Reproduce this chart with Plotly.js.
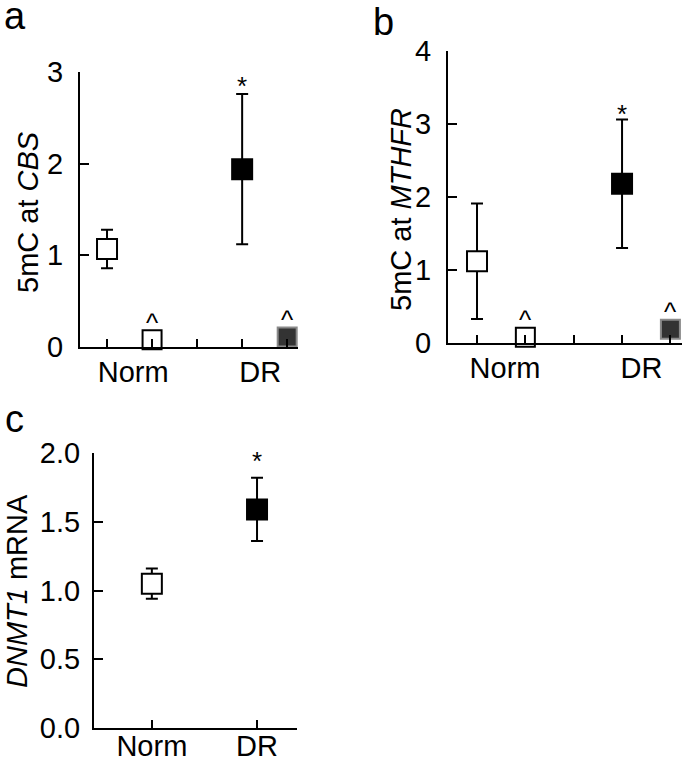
<!DOCTYPE html>
<html>
<head>
<meta charset="utf-8">
<script src="https://cdn.plot.ly/plotly-3.0.1.min.js"></script>
<style>html,body{margin:0;padding:0;background:#fff;}#chart{width:685px;height:761px;}</style>
</head>
<body>
<div id="chart"></div>
<script>
// ---- data ----
const groups = ["Norm", "DR"];
// panel a: 5mC at CBS
const cbsMean = [1.07, 1.94];
const cbsErr = [0.21, 0.82];
const cbsCtrl = [0.08, 0.11];
// panel b: 5mC at MTHFR
const mthfrMean = [1.12, 2.18];
const mthfrErr = [0.79, 0.88];
const mthfrCtrl = [0.08, 0.19];
// panel c: DNMT1 mRNA
const dnmtMean = [1.05, 1.59];
const dnmtErr = [0.11, 0.23];
// significance marks
const sigMarks = ["", "*"];
const ctrlMark = "^";
const yTicksA = [0, 1, 2, 3];
const yTicksB = [0, 1, 2, 3, 4];
const yTicksC = [0, 0.5, 1.0, 1.5, 2.0];

// ---- styling ----
const FONT = "Liberation Sans, Arial, sans-serif";
const fillMain = ["#ffffff", "#000000"];
const fillCtrl = ["#ffffff", "#333333"];
const lineCtrl = ["#000000", "#8a8a8a"];
const labelOffset = [0.08, -0.1];
const markFont = {family: FONT, size: 26, color: "#000"};

const traces = [];
const annotations = [];

function methPanel(xa, ya, mean, err, ctrl, starShift) {
  groups.forEach((g, i) => {
    const center = 1.5 + 3 * i;
    traces.push({
      x: [center - 0.5], y: [mean[i]], xaxis: xa, yaxis: ya, type: "scatter", mode: "markers",
      cliponaxis: false, showlegend: false, hoverinfo: "skip",
      error_y: {type: "data", array: [err[i]], visible: true, color: "#000", thickness: 2, width: 6},
      marker: {symbol: "square", size: 20, color: fillMain[i], line: {color: "#000", width: 2}}
    });
    traces.push({
      x: [center + 0.5], y: [ctrl[i]], xaxis: xa, yaxis: ya, type: "scatter", mode: "markers",
      cliponaxis: false, showlegend: false, hoverinfo: "skip",
      marker: {symbol: "square", size: 19, color: fillCtrl[i], line: {color: lineCtrl[i], width: 2}}
    });
    annotations.push({x: center + 0.5, y: ctrl[i], xref: xa, yref: ya, text: ctrlMark, showarrow: false,
      xanchor: "center", yanchor: "bottom", yshift: 0, font: markFont});
    if (sigMarks[i]) annotations.push({x: center - 0.5, y: mean[i] + err[i], xref: xa, yref: ya, text: sigMarks[i],
      showarrow: false, xanchor: "center", yanchor: "bottom", yshift: starShift, font: markFont});
  });
}
methPanel("x", "y", cbsMean, cbsErr, cbsCtrl, -9);
methPanel("x2", "y2", mthfrMean, mthfrErr, mthfrCtrl, -11);

groups.forEach((g, i) => {
  traces.push({
    x: [g], y: [dnmtMean[i]], xaxis: "x3", yaxis: "y3", type: "scatter", mode: "markers",
    cliponaxis: false, showlegend: false, hoverinfo: "skip",
    error_y: {type: "data", array: [dnmtErr[i]], visible: true, color: "#000", thickness: 2, width: 6},
    marker: {symbol: "square", size: 20, color: fillMain[i], line: {color: "#000", width: 2}}
  });
  if (sigMarks[i]) annotations.push({x: g, y: dnmtMean[i] + dnmtErr[i], xref: "x3", yref: "y3", text: sigMarks[i],
    showarrow: false, xanchor: "center", yanchor: "bottom", yshift: 0, font: markFont});
});

const tickFont = {family: FONT, size: 29, color: "#000"};
function yAx(domain, range, tv, fmt, anchor, standoff) {
  return {domain, range, anchor, tickvals: tv, ticktext: tv.map(v => fmt ? v.toFixed(1) : String(v)),
    showline: true, linecolor: "#000", linewidth: 2, ticks: "inside", ticklen: 9, tickwidth: 2, tickcolor: "#000",
    showgrid: false, zeroline: false, tickfont: tickFont, ticklabelstandoff: standoff, fixedrange: true};
}
function xMeth(domain, anchor) {
  return {domain, range: [0.4, 5.24], anchor, showline: true, linecolor: "#000", linewidth: 2,
    tickvals: groups.map((g, i) => 1.5 + 3 * i + labelOffset[i]), ticktext: groups, ticks: "", showgrid: false, zeroline: false,
    tickfont: tickFont, ticklabelstandoff: -2, fixedrange: true,
    minor: {tickvals: [1, 2, 3, 4, 5], ticks: "inside", ticklen: 8, tickwidth: 2, tickcolor: "#000", showgrid: false}};
}

function label(x, y, text, size, angle) {
  return {xref: "paper", yref: "paper", x: x / 685, y: 1 - y / 761, text, showarrow: false,
    xanchor: "center", yanchor: "middle", textangle: angle || 0, font: {family: FONT, size, color: "#000"}};
}

const layout = {
  width: 685, height: 761, margin: {l: 0, r: 0, t: 0, b: 0},
  paper_bgcolor: "#fff", plot_bgcolor: "rgba(0,0,0,0)", showlegend: false,
  font: {family: FONT, color: "#000"},
  xaxis: xMeth([80 / 685, 298 / 685], "y"),
  yaxis: yAx([1 - 347 / 761, 1 - 72 / 761], [0, 3], yTicksA, false, "x", 9),
  xaxis2: xMeth([448 / 685, 682 / 685], "y2"),
  yaxis2: yAx([1 - 343 / 761, 1 - 51 / 761], [0, 4], yTicksB, false, "x2", 9),
  xaxis3: {domain: [94 / 685, 297 / 685], range: [-0.55, 1.38], anchor: "y3", type: "category",
    showline: true, linecolor: "#000", linewidth: 2, ticks: "inside", ticklen: 8, tickwidth: 2, tickcolor: "#000",
    showgrid: false, zeroline: false, tickfont: tickFont, ticklabelstandoff: -9, fixedrange: true},
  yaxis3: yAx([1 - 728 / 761, 1 - 453 / 761], [0, 2], yTicksC, true, "x3", 6),
  annotations: annotations.concat([
    label(15, 16, "a", 38),
    label(383, 22, "b", 38),
    label(14, 419, "c", 38),
    label(28, 212, "5mC at <i>CBS</i>", 29, -90),
    label(401, 210, "5mC at <i>MTHFR</i>", 29, -90),
    label(17, 591, "<i>DNMT1</i> mRNA", 29, -90)
  ])
};

Plotly.newPlot("chart", traces, layout, {staticPlot: true, displayModeBar: false});
</script>
</body>
</html>
